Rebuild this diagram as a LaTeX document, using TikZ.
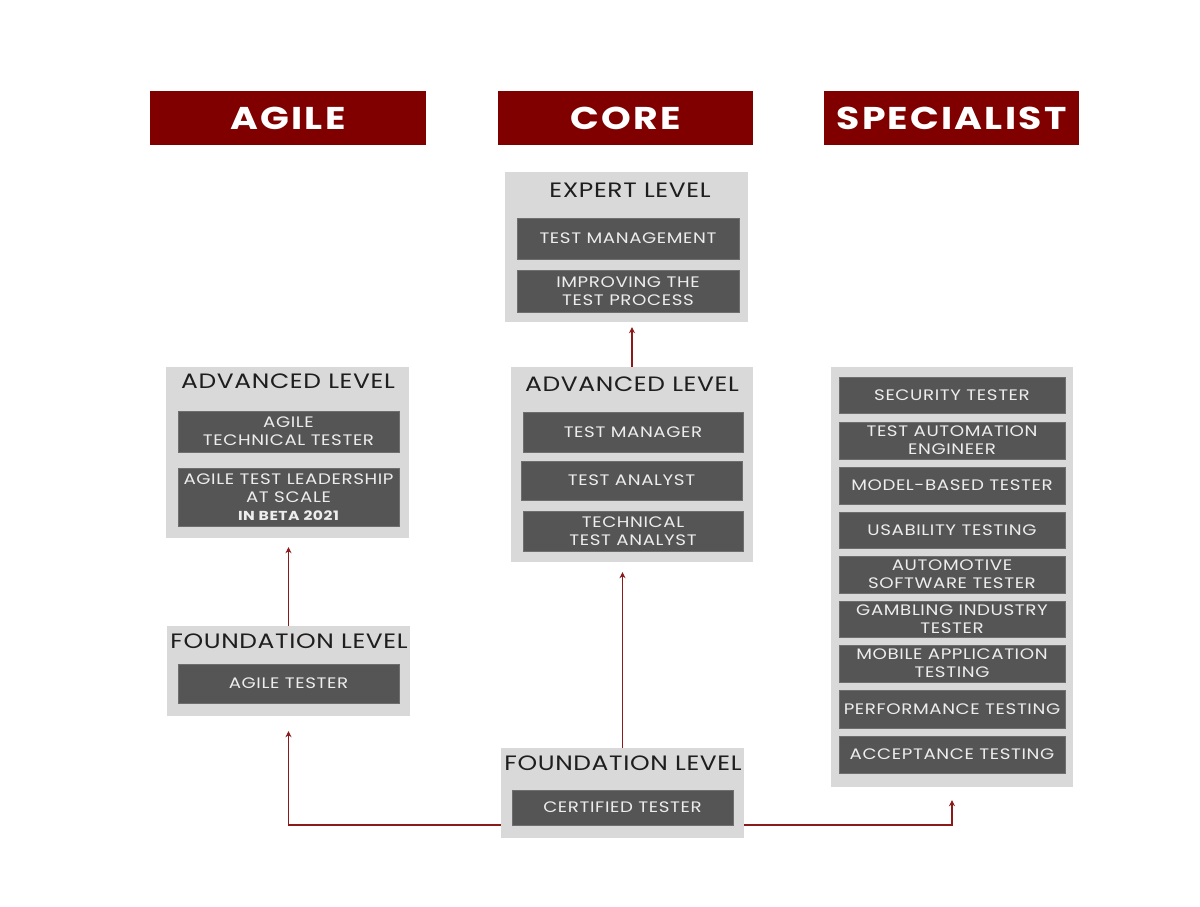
\documentclass[tikz,border=0pt]{standalone}
\usepackage{fontspec}
\setmainfont{Poppins}
\newfontfamily\itemfont[FakeStretch=1.2,LetterSpace=4]{Poppins}
\newfontfamily\titlefont[FakeStretch=1.2,LetterSpace=3]{Poppins}
\newfontfamily\hdrfont[FakeStretch=1.2,LetterSpace=7]{Poppins}
\usetikzlibrary{arrows.meta,calc}
\definecolor{hdr}{HTML}{800000}
\definecolor{lgray}{HTML}{D9D9D9}
\definecolor{dgray}{HTML}{555555}
\definecolor{dborder}{HTML}{6E6E6E}
\definecolor{lnred}{HTML}{8B1A1A}
\definecolor{ttl}{HTML}{1E1E1E}
\tikzset{
  header/.style={fill=hdr, text=white, font=\hdrfont\fontsize{31.5}{34}\selectfont\bfseries, inner sep=0pt},
  panel/.style={fill=lgray, inner sep=0pt},
  ptitle/.style={text=ttl, font=\titlefont\fontsize{20.8}{24}\selectfont, inner sep=0pt},
  item/.style={fill=dgray, draw=dborder, line width=0.6pt, text=white!93!black, font=\itemfont\fontsize{15.2}{18}\selectfont, align=center, inner sep=0pt},
  arr/.style={draw=lnred, line width=1.6pt, -{Stealth[length=6pt,width=6pt]}}
}
\begin{document}
\begin{tikzpicture}[x=1pt,y=-1pt]
\useasboundingbox (0,0) rectangle (1200,907);
% headers
\node[header, minimum width=276pt, minimum height=54pt] (hA) at (288,118) {AGILE};
\node[header, minimum width=255pt, minimum height=54pt] (hC) at (625.5,118) {CORE};
\node[header, minimum width=255pt, minimum height=54pt] (hS) at (951.5,118) {SPECIALIST};
% expert level
\node[panel, minimum width=243pt, minimum height=150pt] (exp) at (626.5,247) {};
\node[ptitle] (expt) at (630,190) {EXPERT LEVEL};
\node[item, minimum width=222pt, minimum height=41pt] (tm) at (628,238.5) {TEST MANAGEMENT};
\node[item, minimum width=222pt, minimum height=42pt] (itp) at (628,291) {IMPROVING THE\\TEST PROCESS};
% core advanced
\node[panel, minimum width=242pt, minimum height=195pt] (cadv) at (632,464.5) {};
\node[ptitle] (cadvt) at (632,384) {ADVANCED LEVEL};
\node[item, minimum width=220pt, minimum height=40pt] (tmgr) at (633,432) {TEST MANAGER};
\node[item, minimum width=221pt, minimum height=39pt] (ta) at (631.5,480.5) {TEST ANALYST};
\node[item, minimum width=220pt, minimum height=40pt] (tta) at (633,531) {TECHNICAL\\TEST ANALYST};
% agile advanced
\node[panel, minimum width=243pt, minimum height=171pt] (aadv) at (287.5,452.5) {};
\node[ptitle] (aadvt) at (288,381) {ADVANCED LEVEL};
\node[item, minimum width=221pt, minimum height=41pt] (att) at (288.5,431.5) {AGILE\\TECHNICAL TESTER};
\node[item, minimum width=221pt, minimum height=58pt, align=center] (atl) at (288.5,497) {AGILE TEST LEADERSHIP\\AT SCALE\\{\fontsize{13}{16}\selectfont\bfseries IN BETA 2021}};
% agile foundation
\node[panel, minimum width=243pt, minimum height=90pt] (afound) at (288.5,671) {};
\node[ptitle] (afoundt) at (289,641) {FOUNDATION LEVEL};
\node[item, minimum width=221pt, minimum height=39pt] (atst) at (288.5,683.5) {AGILE TESTER};
% core foundation
\node[panel, minimum width=243pt, minimum height=90pt] (cf) at (622.5,793) {};
\node[ptitle] (cft) at (623,763) {FOUNDATION LEVEL};
\node[item, minimum width=221pt, minimum height=35pt] (ct) at (622.5,807.5) {CERTIFIED TESTER};
% specialist
\node[panel, minimum width=242pt, minimum height=420pt] (spec) at (952,577) {};
\node[item, minimum width=226pt, minimum height=36pt] (s1) at (952,395) {SECURITY TESTER};
\node[item, minimum width=226pt, minimum height=37pt] (s2) at (952,440.5) {TEST AUTOMATION\\ENGINEER};
\node[item, minimum width=226pt, minimum height=37pt] (s3) at (952,485.5) {MODEL-BASED TESTER};
\node[item, minimum width=226pt, minimum height=36pt] (s4) at (952,530) {USABILITY TESTING};
\node[item, minimum width=226pt, minimum height=37pt] (s5) at (952,574.5) {AUTOMOTIVE\\SOFTWARE TESTER};
\node[item, minimum width=226pt, minimum height=36pt] (s6) at (952,619) {GAMBLING INDUSTRY\\TESTER};
\node[item, minimum width=226pt, minimum height=37pt] (s7) at (952,663.5) {MOBILE APPLICATION\\TESTING};
\node[item, minimum width=226pt, minimum height=38pt] (s8) at (952,709) {PERFORMANCE TESTING};
\node[item, minimum width=226pt, minimum height=37pt] (s9) at (952,754.5) {ACCEPTANCE TESTING};
% connectors
\draw[arr, shorten >=5pt] (cadv.north) -- (exp.south -| cadv.north);
\draw[arr, shorten >=10pt] (cf.north) -- (cf.north |- cadv.south);
\draw[arr, shorten >=9pt] (afound.north) -- (afound.north |- aadv.south);
\draw[arr, shorten >=15pt] ([yshift=13pt]cf.south west) -| (afound.south);
\draw[arr, shorten >=13pt] ([yshift=13pt]cf.south east) -| (spec.south);
\end{tikzpicture}
\end{document}
